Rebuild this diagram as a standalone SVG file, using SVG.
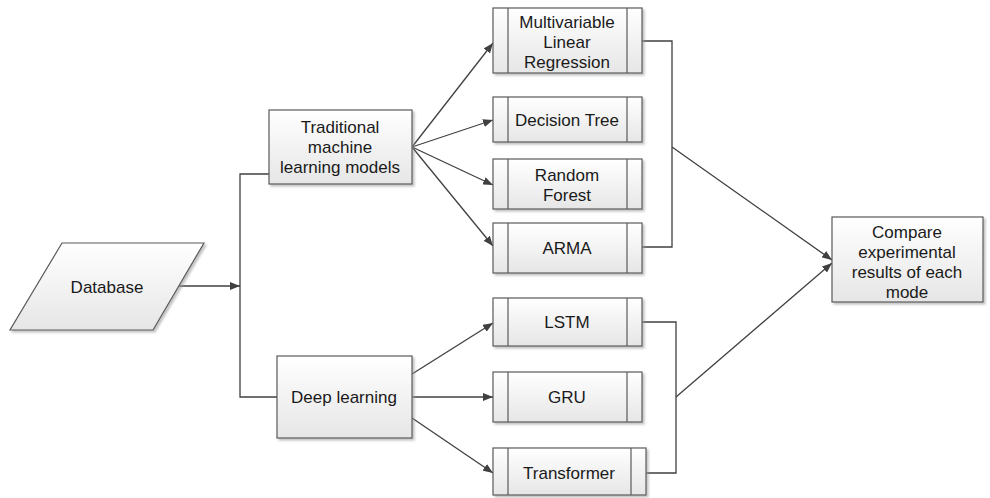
<svg xmlns="http://www.w3.org/2000/svg" width="990" height="498" viewBox="0 0 990 498">
<style>
.box{fill:url(#g);stroke:#5a5a5a;stroke-width:1.2;filter:url(#sh)}
.in{stroke:#5a5a5a;stroke-width:1.2;fill:none}
.t{font-family:"Liberation Sans",Arial,sans-serif;font-size:17px;fill:#1a1a1a;text-anchor:middle}
.c{stroke:#404040;stroke-width:1.3;fill:none}
.a{marker-end:url(#ah)}
</style>
<defs>
<linearGradient id="g" x1="0" y1="0" x2="0" y2="1">
<stop offset="0" stop-color="#ffffff"/>
<stop offset="1" stop-color="#e6e6e6"/>
</linearGradient>
<filter id="sh" x="-10%" y="-10%" width="130%" height="130%">
<feDropShadow dx="2" dy="2" stdDeviation="0.8" flood-color="#9a9a9a" flood-opacity="0.6"/>
</filter>
<marker id="ah" viewBox="0 0 10 8" refX="10" refY="4" markerWidth="10" markerHeight="8" markerUnits="userSpaceOnUse" orient="auto">
<path d="M0,0 L10,4 L0,8 Z" fill="#404040"/>
</marker>
</defs>
<g id="connectors">
<line class="c a" x1="178" y1="286" x2="240" y2="286"/>
<path class="c" d="M269,174 H240 V397 H277"/>
<line class="c a" x1="412" y1="147" x2="493" y2="43"/>
<line class="c a" x1="412" y1="147" x2="493" y2="120"/>
<line class="c a" x1="412" y1="147" x2="493" y2="185"/>
<line class="c a" x1="412" y1="147" x2="493" y2="246"/>
<line class="c a" x1="412" y1="374" x2="493" y2="323"/>
<line class="c a" x1="412" y1="397" x2="493" y2="397"/>
<line class="c a" x1="412" y1="418" x2="493" y2="473"/>
<path class="c" d="M642,41 H672 V247 H642"/>
<path class="c" d="M642,322 H676 V473 H646"/>
<line class="c a" x1="672" y1="147" x2="832" y2="260"/>
<line class="c a" x1="676" y1="397" x2="832" y2="263"/>
</g>
<g id="database">
<polygon class="box" points="62,243 204,243 153,330 10,330"/>
<text class="t" x="107" y="293">Database</text>
</g>
<g id="traditional">
<rect class="box" x="269" y="110" width="143" height="74"/>
<text class="t" x="340" y="133">Traditional</text>
<text class="t" x="340" y="153">machine</text>
<text class="t" x="340" y="173">learning models</text>
</g>
<g id="deep">
<rect class="box" x="277" y="356" width="135" height="82"/>
<text class="t" x="344" y="403">Deep learning</text>
</g>
<g id="mlr">
<rect class="box" x="493" y="8" width="149" height="65"/>
<line class="in" x1="508" y1="8" x2="508" y2="73"/><line class="in" x1="627" y1="8" x2="627" y2="73"/>
<text class="t" x="567" y="28">Multivariable</text>
<text class="t" x="567" y="48">Linear</text>
<text class="t" x="567" y="68">Regression</text>
</g>
<g id="dt">
<rect class="box" x="493" y="97" width="149" height="45"/>
<line class="in" x1="508" y1="97" x2="508" y2="142"/><line class="in" x1="627" y1="97" x2="627" y2="142"/>
<text class="t" x="567" y="126">Decision Tree</text>
</g>
<g id="rf">
<rect class="box" x="493" y="159" width="149" height="50"/>
<line class="in" x1="508" y1="159" x2="508" y2="209"/><line class="in" x1="627" y1="159" x2="627" y2="209"/>
<text class="t" x="567" y="181">Random</text>
<text class="t" x="567" y="201">Forest</text>
</g>
<g id="arma">
<rect class="box" x="493" y="223" width="149" height="50"/>
<line class="in" x1="508" y1="223" x2="508" y2="273"/><line class="in" x1="627" y1="223" x2="627" y2="273"/>
<text class="t" x="567" y="254">ARMA</text>
</g>
<g id="lstm">
<rect class="box" x="493" y="298" width="149" height="48"/>
<line class="in" x1="508" y1="298" x2="508" y2="346"/><line class="in" x1="627" y1="298" x2="627" y2="346"/>
<text class="t" x="567" y="328">LSTM</text>
</g>
<g id="gru">
<rect class="box" x="493" y="372" width="149" height="50"/>
<line class="in" x1="508" y1="372" x2="508" y2="422"/><line class="in" x1="627" y1="372" x2="627" y2="422"/>
<text class="t" x="567" y="403">GRU</text>
</g>
<g id="transformer">
<rect class="box" x="493" y="448" width="153" height="47"/>
<line class="in" x1="508" y1="448" x2="508" y2="495"/><line class="in" x1="631" y1="448" x2="631" y2="495"/>
<text class="t" x="569" y="479">Transformer</text>
</g>
<g id="compare">
<rect class="box" x="832" y="217" width="151" height="85"/>
<text class="t" x="907" y="238">Compare</text>
<text class="t" x="907" y="258">experimental</text>
<text class="t" x="907" y="278">results of each</text>
<text class="t" x="907" y="298">mode</text>
</g>
</svg>
